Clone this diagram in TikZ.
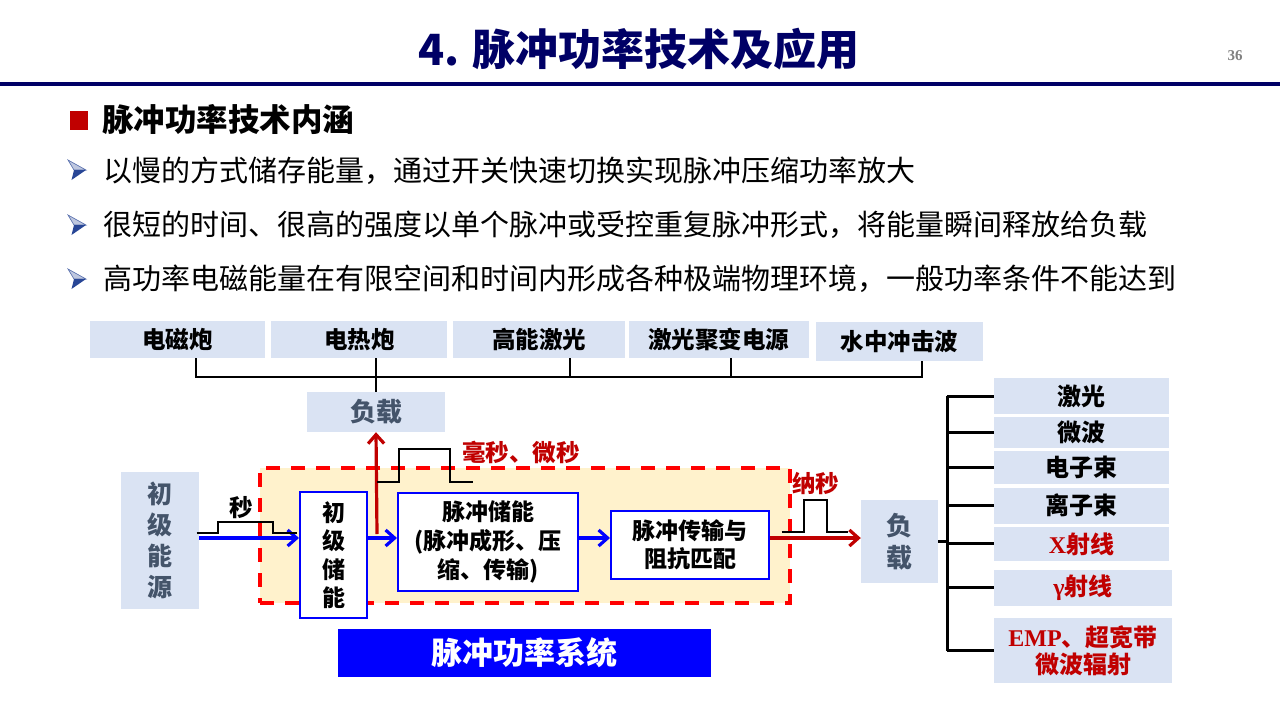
\documentclass[tikz,border=0pt]{standalone}
\usepackage{fontspec}
\setmainfont{Noto Sans CJK SC}
\newfontfamily\timesfont{Liberation Serif}
\usetikzlibrary{arrows, arrows.meta, shapes, positioning}

\definecolor{navy}{RGB}{0,0,102}
\definecolor{boxblue}{RGB}{218,227,243}
\definecolor{loadgray}{RGB}{68,84,106}
\definecolor{darkred}{RGB}{192,0,0}
\definecolor{framefill}{RGB}{255,242,204}
\definecolor{bulletblue}{RGB}{40,70,150}
\newcommand{\fsz}[2]{\fontsize{#1}{#2}\selectfont}
\newcommand{\bulletmark}[1]{%
	\fill[bulletblue!30, draw=bulletblue!80, line width=0.6pt] (68,#1-10) -- (86,#1) -- (74,#1) -- cycle;
	\fill[bulletblue] (74,#1) -- (86,#1) -- (71.5,#1+10) -- cycle;}

\begin{document}
\begin{tikzpicture}[x=1pt, y=-1pt, >={Straight Barb[length=9pt, width=16pt]},
	lbox/.style={fill=boxblue, inner sep=0pt, align=center, font=\bfseries\fsz{23.5}{28}},
	gbox/.style={lbox, text=loadgray, font=\bfseries\fsz{26}{31.5}},
	wbox/.style={draw=blue, line width=2pt, fill=white, inner sep=0pt, align=center, font=\bfseries\fsz{23}{28.5}},
	rbox/.style={lbox, minimum width=175pt, font=\bfseries\fsz{24}{27}},
	flow/.style={->, blue, line width=3.2pt},
	hot/.style={->, darkred, line width=3.2pt},
	bus/.style={black, line width=2pt},
	pulse/.style={black, line width=1.8pt},
	tag/.style={font=\bfseries\fsz{23.5}{28}, inner sep=0pt},
	bullet/.style={font=\fsz{29}{34}, anchor=west, inner sep=0pt}]

	\useasboundingbox[fill=white] (0,0) rectangle (1280,720);

	% title %
	\node[font=\bfseries\fsz{43}{48}, text=navy] (title) at (639,49) {4. 脉冲功率技术及应用};
	\node[font=\timesfont\bfseries\fsz{15}{18}, text=gray] (page) at (1235,56) {36};
	\draw[navy, line width=4pt] (0,83.5) -- (1280,83.5);

	% bullets %
	\fill[darkred] (69.5,111) rectangle (87.5,129.5);
	\node[bullet, font=\bfseries\fsz{31.5}{36}] (head) at (102,120) {脉冲功率技术内涵};
	\bulletmark{170}
	\bulletmark{225}
	\bulletmark{279}
	\node[bullet] (b1) at (103,170.8) {以慢的方式储存能量，通过开关快速切换实现脉冲压缩功率放大};
	\node[bullet] (b2) at (103,225) {很短的时间、很高的强度以单个脉冲或受控重复脉冲形式，将能量瞬间释放给负载};
	\node[bullet] (b3) at (103,279) {高功率电磁能量在有限空间和时间内形成各种极端物理环境，一般功率条件不能达到};

	% top loads %
	\node[lbox, minimum width=175pt, minimum height=37pt] (emg) at (177.5,339.5) {电磁炮};
	\node[lbox, minimum width=176pt, minimum height=37pt, right=6pt of emg] (etg) {电热炮};
	\node[lbox, minimum width=172pt, minimum height=37pt, right=5.5pt of etg] (hel) {高能激光};
	\node[lbox, minimum width=180pt, minimum height=37pt, right=3pt of hel] (lfp) {激光聚变电源};
	\node[lbox, minimum width=167pt, minimum height=39pt, right=7pt of lfp, yshift=-2pt] (usw) {水中冲击波};
	\node[gbox, minimum width=138pt, minimum height=40pt] (load1) at (376,412) {负载};

	\draw[bus] ([xshift=18.5pt]emg.south) -- ++(0,19) -| ([xshift=22.5pt]usw.south);
	\draw[bus] ([xshift=30.5pt]hel.south) -- ++(0,19);
	\draw[bus] ([xshift=12pt]lfp.south) -- ++(0,19);
	\draw[bus] (etg.south -| load1.north) -- (load1.north);

	% pulse power system %
	\node[draw=red, dash pattern=on 14pt off 11pt, line width=3.5pt, fill=framefill, minimum width=530pt, minimum height=135pt, inner sep=0pt] (frame) at (525,535.5) {};
	\node[gbox, minimum width=78pt, minimum height=137pt, font=\bfseries\fsz{25}{31}] (src) at (160,540.5) {初\\级\\能\\源};
	\node[wbox, minimum width=67pt, minimum height=126pt] (pstore) at (333.5,555) {初\\级\\储\\能};
	\node[wbox, minimum width=180pt, minimum height=98pt, font=\bfseries\fsz{23}{29}] (pshape) at (488,542) {脉冲储能\\(脉冲成形、压\\缩、传输)};
	\node[wbox, minimum width=158pt, minimum height=68pt] (pmatch) at (690,545) {脉冲传输与\\阻抗匹配};
	\node[gbox, minimum width=77pt, minimum height=83pt] (load2) at (899.5,541.5) {负\\载};
	\node[fill=blue, text=white, font=\bfseries\fsz{31}{36}, minimum width=373pt, minimum height=48pt, inner sep=0pt] (psys) at (524.5,653) {脉冲功率系统};

	% edges %
	\coordinate (line) at (0,538);
	\coordinate (tap) at (377,534);
	\draw[flow] (src.east |- line) -- (pstore.west |- line);
	\draw[flow] (pstore.east |- line) -- (pshape.west |- line);
	\draw[flow] (pshape.east |- line) -- (pmatch.west |- line);
	\draw[hot] (pmatch.east |- line) -- (load2.west |- line);
	\draw[hot] (tap) -- (load1.south);

	% pulses %
	\coordinate (sp) at (196.7,532.7);
	\draw[pulse] (sp) -- ++(21.3,0) -- ++(0,-11) -- ++(55,0) -- ++(0,11) -- ++(23.7,0);
	\node[tag] (slbl) at (241.7,508) {秒};
	\coordinate (msp) at (377,481.7);
	\draw[pulse] (msp) -- ++(22,0) -- ++(0,-32.7) -- ++(51,0) -- ++(0,32.7) -- ++(23,0);
	\node[tag, text=darkred] (mslbl) at (521,452) {毫秒、微秒};
	\coordinate (nsp) at (781.7,532);
	\draw[pulse] (nsp) -- ++(22.3,0) -- ++(0,-32) -- ++(22.7,0) -- ++(0,32) -- ++(21.3,0);
	\node[tag, text=darkred] (nslbl) at (815.5,484) {纳秒};

	% right loads %
	\node[rbox, minimum height=36pt] (r1) at (1081.5,396) {激光};
	\node[rbox, minimum height=31pt, below=2.7pt of r1] (r2) {微波};
	\node[rbox, minimum height=33pt, below=2.6pt of r2] (r3) {电子束};
	\node[rbox, minimum height=36.5pt, below=3pt of r3] (r4) {离子束};
	\node[rbox, minimum height=34.5pt, below=2.3pt of r4, text=darkred] (r5) {{\timesfont X}射线};
	\node[rbox, minimum width=178pt, minimum height=35.5pt, below=8.4pt of r5.south west, anchor=north west, text=darkred] (r6) {{\timesfont γ}射线};
	\node[rbox, minimum width=178pt, minimum height=65pt, below=12.4pt of r6.south west, anchor=north west, text=darkred] (r7) {{\timesfont EMP}、超宽带\\微波辐射};

	\coordinate (trunk) at (947,538);
	\draw[bus, line width=3pt] (r1.west -| trunk) -- (r7.west -| trunk);
	\draw[bus, line width=3pt] (load2.east) -- (load2.east -| trunk);
	\draw[bus, line width=3pt] (r1.west -| trunk) -- (r1.west);
	\draw[bus, line width=3pt] (r2.west -| trunk) -- (r2.west);
	\draw[bus, line width=3pt] (r3.west -| trunk) -- (r3.west);
	\draw[bus, line width=3pt] (r4.west -| trunk) -- (r4.west);
	\draw[bus, line width=3pt] (r5.west -| trunk) -- (r5.west);
	\draw[bus, line width=3pt] (r6.west -| trunk) -- (r6.west);
	\draw[bus, line width=3pt] (r7.west -| trunk) -- (r7.west);
\end{tikzpicture}
\end{document}
